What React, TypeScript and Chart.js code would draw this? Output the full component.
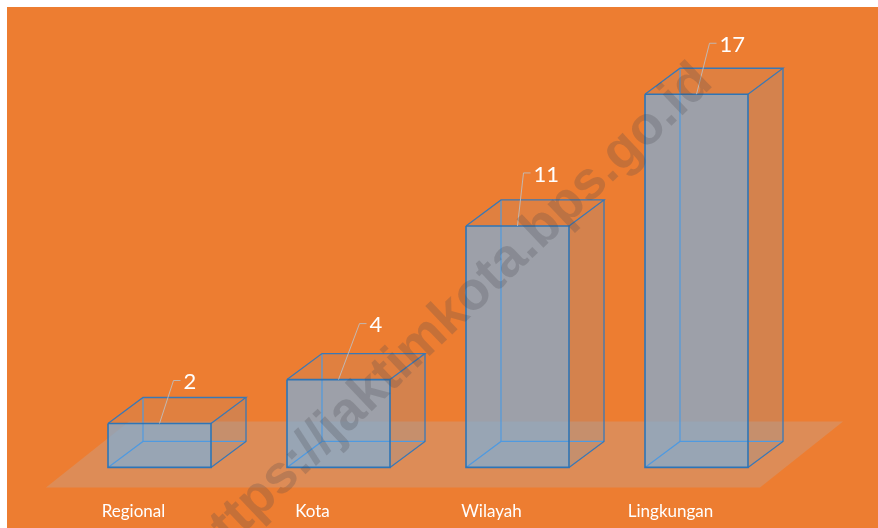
import React, { useEffect, useRef } from "react";
import { Chart, registerables } from "chart.js";

Chart.register(...registerables);

const categories = ["Regional", "Kota", "Wilayah", "Lingkungan"];
const seriesValues = [2, 4, 11, 17];
const axisMin = 0;
const axisMax = 20;
const watermarkText = "https://jaktimkota.bps.go.id";

const DEPTH_X = 35;
const DEPTH_Y = 26;
const leaderRise = [43, 56, 53, 51];
const leaderRun = [14, 21, 6, 13];
const FONT = "Lato";

const boxes = {
  id: "boxes",
  beforeDatasetsDraw(chart: any) {
    const { ctx, chartArea } = chart;
    const base = chart.scales.y.getPixelForValue(0);
    const L = chartArea.left;
    // floor
    ctx.save();
    ctx.fillStyle = "rgba(191,168,157,0.35)";
    ctx.beginPath();
    ctx.moveTo(L - 24, base + 20);
    ctx.lineTo(L + 59, base - 46);
    ctx.lineTo(L + 773, base - 46);
    ctx.lineTo(L + 690, base + 20);
    ctx.closePath();
    ctx.fill();
    // side and top faces
    for (const bar of chart.getDatasetMeta(0).data) {
      const l = bar.x - bar.width / 2;
      const r = bar.x + bar.width / 2;
      const t = bar.y;
      ctx.fillStyle = "rgba(91,155,213,0.17)";
      ctx.beginPath();
      ctx.moveTo(r, t);
      ctx.lineTo(r + DEPTH_X, t - DEPTH_Y);
      ctx.lineTo(r + DEPTH_X, base - DEPTH_Y);
      ctx.lineTo(r, base);
      ctx.closePath();
      ctx.fill();
      ctx.fillStyle = "rgba(91,155,213,0.09)";
      ctx.beginPath();
      ctx.moveTo(l, t);
      ctx.lineTo(l + DEPTH_X, t - DEPTH_Y);
      ctx.lineTo(r + DEPTH_X, t - DEPTH_Y);
      ctx.lineTo(r, t);
      ctx.closePath();
      ctx.fill();
    }
    ctx.restore();
  },
  afterDatasetsDraw(chart: any) {
    const { ctx } = chart;
    const base = chart.scales.y.getPixelForValue(0);
    const seg = (pts: number[][]) => {
      ctx.beginPath();
      pts.forEach((p, i) => (i ? ctx.lineTo(p[0], p[1]) : ctx.moveTo(p[0], p[1])));
      ctx.stroke();
    };
    ctx.save();
    chart.getDatasetMeta(0).data.forEach((bar: any, i: number) => {
      const l = bar.x - bar.width / 2;
      const r = bar.x + bar.width / 2;
      const t = bar.y;
      const lb = l + DEPTH_X;
      const rb = r + DEPTH_X;
      const tb = t - DEPTH_Y;
      const bb = base - DEPTH_Y;
      // hidden edges
      ctx.strokeStyle = "#4f9ae0";
      ctx.lineWidth = 1.2;
      seg([[l, base], [lb, bb], [rb, bb]]);
      seg([[lb, bb], [lb, tb]]);
      // outer edges
      ctx.strokeStyle = "#3a78b5";
      ctx.lineWidth = 1.3;
      seg([[l, t], [lb, tb], [rb, tb], [r, t]]);
      seg([[rb, tb], [rb, bb], [r, base]]);
      // front
      ctx.lineWidth = 1.6;
      ctx.strokeStyle = "#2e75b6";
      seg([[l, t], [r, t], [r, base], [l, base], [l, t]]);
      // leader + value
      const topX = bar.x + leaderRun[i];
      const topY = t - leaderRise[i];
      ctx.strokeStyle = "rgba(190,190,190,0.9)";
      ctx.lineWidth = 1;
      seg([[bar.x, t], [topX, topY], [topX + 7, topY]]);
      ctx.fillStyle = "#ffffff";
      ctx.font = `22px ${FONT}`;
      ctx.textAlign = "left";
      ctx.textBaseline = "middle";
      ctx.fillText(String(seriesValues[i]), topX + 10, topY + 1.5);
    });
    // watermark
    ctx.translate(443, 309);
    ctx.rotate((-43.6 * Math.PI) / 180);
    ctx.font = "bold 54px 'Liberation Sans'";
    ctx.fillStyle = "rgba(70,70,80,0.24)";
    ctx.textAlign = "center";
    ctx.textBaseline = "middle";
    ctx.fillText(watermarkText, 0, 0);
    ctx.restore();
  },
};

export default function App() {
  const ref = useRef<HTMLCanvasElement>(null);
  useEffect(() => {
    const chart = new Chart(ref.current as HTMLCanvasElement, {
      type: "bar",
      data: {
        labels: categories,
        datasets: [
          {
            data: seriesValues,
            backgroundColor: "rgba(123,175,219,0.7)",
            borderWidth: 0,
            categoryPercentage: 1,
            barPercentage: 103 / 179,
          },
        ],
      },
      options: {
        responsive: false,
        animation: false,
        layout: { padding: { left: 63, right: 92, top: 21.4, bottom: 0 } },
        plugins: { legend: { display: false }, tooltip: { enabled: false } },
        scales: {
          x: {
            grid: { display: false },
            border: { display: false },
            afterFit: (s: any) => {
              s.height = 60.6;
            },
            ticks: {
              color: "#ffffff",
              font: { family: FONT, size: 17 },
              labelOffset: -26,
              padding: 26,
              maxRotation: 0,
              autoSkip: false,
            },
          },
          y: { display: false, min: axisMin, max: axisMax },
        },
      },
      plugins: [boxes],
    } as any);
    return () => chart.destroy();
  }, []);
  return (
    <canvas
      ref={ref}
      width={871}
      height={521}
      style={{ position: "absolute", left: 7, top: 7, width: 871, height: 521, background: "#ed7d31" }}
    />
  );
}
